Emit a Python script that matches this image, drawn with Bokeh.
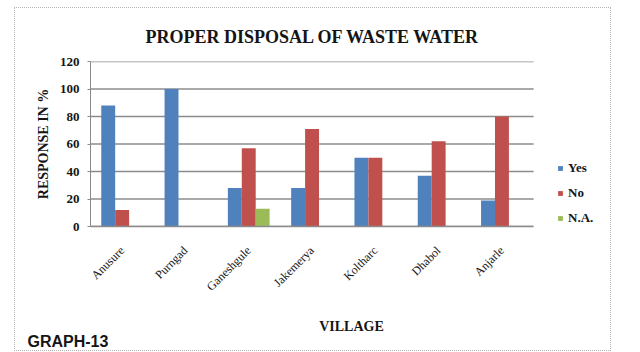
import math
from bokeh.plotting import figure
from bokeh.models import (ColumnDataSource, Range1d, Legend, LegendItem, Title,
                          FixedTicker)
from bokeh.embed import file_html
from bokeh.resources import INLINE

villages = ["Anusure", "Purngad", "Ganeshgule", "Jakemerya", "Koltharc", "Dhabol", "Anjarle"]
yes_pct = [88, 100, 28, 28, 50, 37, 19]
no_pct = [12, 0, 57, 71, 50, 62, 80]
na_pct = [0, 0, 13, 0, 0, 0, 0]
y_ticks = [0, 20, 40, 60, 80, 100, 120]

SERIF = "Liberation Serif"
BLUE, RED, GREEN = "#4F81BD", "#C0504D", "#9BBB59"
INK = "#151515"
GRID = "#8c8c8c"

W, H = 597, 344
FRAME_LEFT = 75          # px from the left edge of the canvas
UNIT_PX = 63.3           # width of one village slot in pixels

# one slot per village, centred on 1, 2, 3, ...
pos = list(range(1, len(villages) + 1))
x_lo, x_hi = 0.5, len(villages) + 0.5
x_end = x_lo + (W - FRAME_LEFT) / UNIT_PX   # room on the right for the legend

bw = 0.22
src = ColumnDataSource(dict(
    pos=pos, village=villages, yes=yes_pct, no=no_pct, na=na_pct,
    x_yes=[c - bw for c in pos], x_no=pos, x_na=[c + bw for c in pos],
))

p = figure(width=W, height=H, x_range=Range1d(x_lo, x_end), y_range=Range1d(0, 120),
           output_backend="svg", toolbar_location=None,
           min_border_left=FRAME_LEFT, min_border_right=0, min_border_top=53,
           min_border_bottom=126)
p.margin = (7, 0, 0, 14)
p.styles = {"border": "1px dotted #b4b4b4"}
p.outline_line_color = None
p.background_fill_color = "white"
p.border_fill_color = "white"
p.xgrid.grid_line_color = None
p.ygrid.grid_line_color = None

# horizontal gridlines across the category area only
p.segment(x0=x_lo, x1=x_hi, y0=y_ticks, y1=y_ticks, line_color=GRID, line_width=1.5)

r_yes = p.vbar(x="x_yes", top="yes", width=bw, source=src, fill_color=BLUE, line_color=None)
r_no = p.vbar(x="x_no", top="no", width=bw, source=src, fill_color=RED, line_color=None)
r_na = p.vbar(x="x_na", top="na", width=bw, source=src, fill_color=GREEN, line_color=None)

# chart title
p.title = Title(text="PROPER DISPOSAL OF WASTE WATER", align="left", offset=55,
                text_font=SERIF, text_font_size="18px", text_font_style="bold",
                text_color=INK, standoff=30)

# value axis
p.yaxis.ticker = FixedTicker(ticks=y_ticks)
p.yaxis.axis_line_color = "#8a8a8a"
p.yaxis.major_tick_line_color = "#8a8a8a"
p.yaxis.major_tick_out = 3
p.yaxis.major_tick_in = 0
p.yaxis.minor_tick_line_color = None
p.yaxis.major_label_text_font = SERIF
p.yaxis.major_label_text_font_size = "13px"
p.yaxis.major_label_text_font_style = "bold"
p.yaxis.major_label_text_color = INK
p.yaxis.major_label_standoff = 8
p.yaxis.axis_label = "RESPONSE IN %"
p.yaxis.axis_label_text_font = SERIF
p.yaxis.axis_label_text_font_size = "14px"
p.yaxis.axis_label_text_font_style = "bold"
p.yaxis.axis_label_text_color = INK
p.yaxis.axis_label_standoff = 6

# category axis
p.xaxis.bounds = (x_lo, x_hi)
p.xaxis.ticker = FixedTicker(ticks=pos)
p.xaxis.major_label_overrides = {c: v for c, v in zip(pos, villages)}
p.xaxis.axis_line_color = "#8a8a8a"
p.xaxis.axis_line_width = 1.5
p.xaxis.major_tick_line_color = None
p.xaxis.minor_tick_line_color = None
p.xaxis.major_label_orientation = math.pi / 4
p.xaxis.major_label_text_font = SERIF
p.xaxis.major_label_text_font_size = "12px"
p.xaxis.major_label_text_color = INK
p.xaxis.major_label_standoff = 16
p.xaxis.axis_label = "VILLAGE"
p.xaxis.axis_label_text_font = SERIF
p.xaxis.axis_label_text_font_size = "14px"
p.xaxis.axis_label_text_font_style = "bold"
p.xaxis.axis_label_text_color = INK
p.xaxis.axis_label_standoff = 18

# legend to the right of the bars
legend = Legend(items=[LegendItem(label="Yes", renderers=[r_yes]),
                       LegendItem(label="No", renderers=[r_no]),
                       LegendItem(label="N.A.", renderers=[r_na])],
                location=(467, 0), orientation="vertical",
                glyph_width=6, glyph_height=6, label_height=10, spacing=9,
                padding=0, margin=0, border_line_color=None, background_fill_alpha=0,
                label_text_font=SERIF, label_text_font_size="13px",
                label_text_font_style="bold", label_text_color=INK,
                label_standoff=5)
p.add_layout(legend)

# figure caption
p.add_layout(Title(text="GRAPH-13", align="left", offset=-63,
                   text_font="Liberation Sans", text_font_size="16px",
                   text_font_style="bold", text_color=INK, standoff=-25), "below")

open("out.html", "w").write(file_html(p, INLINE))
